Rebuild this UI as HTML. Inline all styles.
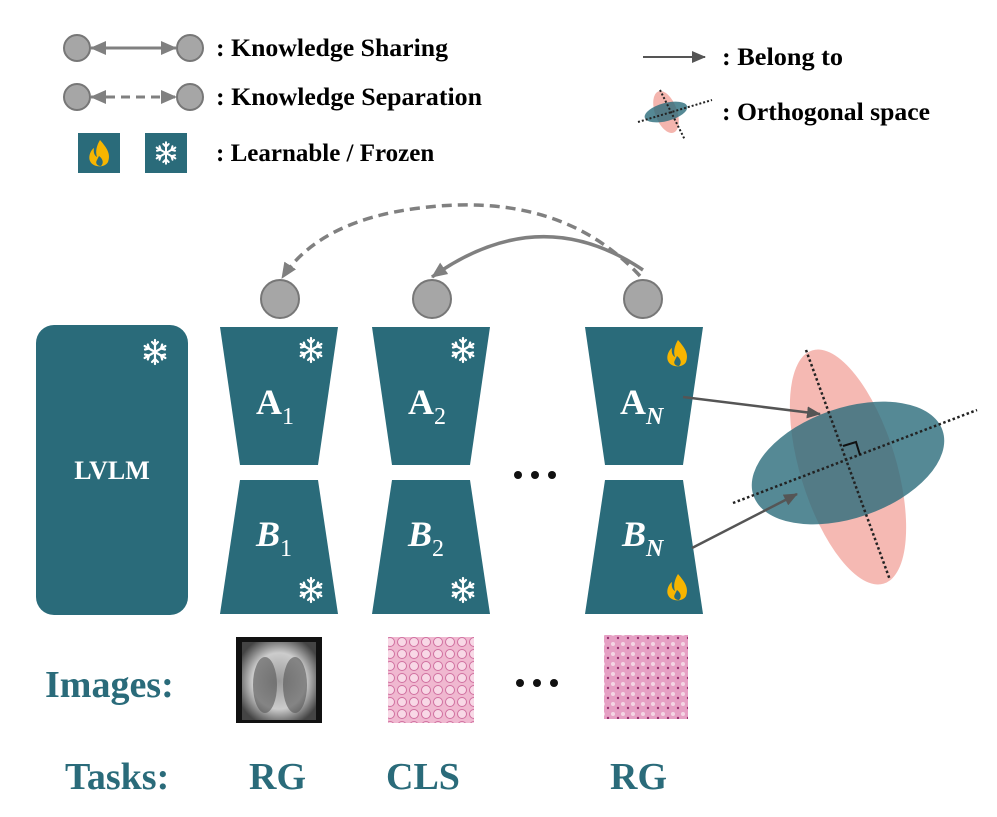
<!DOCTYPE html>
<html><head><meta charset="utf-8"><style>
html,body{margin:0;padding:0;background:#fff;width:997px;height:817px;overflow:hidden}
svg{display:block}
text{font-family:"Liberation Serif",serif;font-weight:bold}
</style></head><body>
<svg width="997" height="817" viewBox="0 0 997 817" xmlns="http://www.w3.org/2000/svg">
<defs>
<marker id="ahb" markerWidth="16" markerHeight="16" refX="15" refY="8" orient="auto-start-reverse" markerUnits="userSpaceOnUse"><path d="M0,1 L16,8 L0,15z" fill="#808080"/></marker>
<marker id="ahd" markerWidth="14" markerHeight="12" refX="13" refY="6" orient="auto" markerUnits="userSpaceOnUse"><path d="M0,0 L14,6 L0,12z" fill="#555"/></marker>
<radialGradient id="xr" cx="50%" cy="50%" r="60%"><stop offset="0" stop-color="#999"/><stop offset="0.6" stop-color="#ccc"/><stop offset="1" stop-color="#444"/></radialGradient>
<pattern id="cells" width="12" height="12" patternUnits="userSpaceOnUse"><rect width="12" height="12" fill="#f0b8d0"/><circle cx="6" cy="6" r="4.5" fill="#f8d8e6" stroke="#d070a0" stroke-width="1"/></pattern>
<pattern id="cells2" width="10" height="10" patternUnits="userSpaceOnUse"><rect width="10" height="10" fill="#e6a0c4"/><circle cx="3" cy="4" r="2" fill="#f4d6e4"/><circle cx="8" cy="8" r="1.2" fill="#9a3070"/></pattern>
<g id="snow" stroke="#fff" stroke-width="2.2" stroke-linecap="round" fill="none">
<path d="M0,-12V12M-10.4,-6L10.4,6M-10.4,6L10.4,-6"/>
<path d="M-3,-10L0,-7L3,-10M-3,10L0,7L3,10M-10,-2.5L-6,-3.5L-7.2,-7.5M10,2.5L6,3.5L7.2,7.5M-10,2.5L-6,3.5L-7.2,7.5M10,-2.5L6,-3.5L7.2,-7.5"/>
</g>
<g id="fire"><path d="M1,-14 C8,-6 12,0 9,8 C6,14 -6,14 -9,7 C-11,2 -8,-4 -5,-6 C-6,-1 -4,2 -2,3 C-4,-3 -2,-9 1,-14z" fill="#f7b500"/><path d="M0,2 C4,5 5,9 2,12 C-2,12 -4,9 -2,6z" fill="#2a6b7a"/></g>
</defs>

<!-- Legend -->
<line x1="91" y1="48" x2="176" y2="48" stroke="#808080" stroke-width="3" marker-end="url(#ahb)" marker-start="url(#ahb)"/>
<line x1="91" y1="97" x2="176" y2="97" stroke="#808080" stroke-width="3" stroke-dasharray="9,6" marker-end="url(#ahb)" marker-start="url(#ahb)"/>
<g stroke="#777" stroke-width="2" fill="#a6a6a6">
<circle cx="77" cy="48" r="13"/><circle cx="190" cy="48" r="13"/>
<circle cx="77" cy="97" r="13"/><circle cx="190" cy="97" r="13"/>
</g>
<text x="216" y="56" font-size="25" textLength="232" lengthAdjust="spacingAndGlyphs">: Knowledge Sharing</text>
<text x="216" y="105" font-size="25" textLength="266" lengthAdjust="spacingAndGlyphs">: Knowledge Separation</text>
<rect x="78" y="133" width="42" height="40" fill="#2a6b7a"/>
<use href="#fire" x="99" y="154"/>
<rect x="145" y="133" width="42" height="40" fill="#2a6b7a"/>
<use href="#snow" transform="translate(166,153) scale(0.9)"/>
<text x="216" y="161" font-size="25">: Learnable / Frozen</text>

<line x1="643" y1="57" x2="705" y2="57" stroke="#555" stroke-width="2" marker-end="url(#ahd)"/>
<text x="722" y="65" font-size="25" textLength="121" lengthAdjust="spacingAndGlyphs">: Belong to</text>
<ellipse cx="666" cy="112" rx="11" ry="22" fill="#f2a8a0" opacity="0.85" transform="rotate(-20 666 112)"/>
<ellipse cx="666" cy="112" rx="22" ry="9" fill="#2a6b7a" opacity="0.8" transform="rotate(-15 666 112)"/>
<line x1="660" y1="90" x2="685" y2="140" stroke="#222" stroke-width="2" stroke-dasharray="2,2"/>
<line x1="638" y1="122" x2="712" y2="100" stroke="#222" stroke-width="2" stroke-dasharray="2,2"/>
<text x="722" y="120" font-size="25" textLength="208" lengthAdjust="spacingAndGlyphs">: Orthogonal space</text>

<!-- Arcs -->
<path d="M643,270 Q540,200 432,277" fill="none" stroke="#808080" stroke-width="3.5" marker-end="url(#ahb)"/>
<path d="M640,276 Q560,190 420,208 Q320,220 282,278" fill="none" stroke="#808080" stroke-width="3.5" stroke-dasharray="10,6" marker-end="url(#ahb)"/>
<g stroke="#777" stroke-width="2" fill="#a6a6a6">
<circle cx="280" cy="299" r="19"/><circle cx="432" cy="299" r="19"/><circle cx="643" cy="299" r="19"/>
</g>

<!-- LVLM -->
<rect x="36" y="325" width="152" height="290" rx="18" fill="#2a6b7a"/>
<text x="112" y="479" font-size="26" fill="#fff" text-anchor="middle">LVLM</text>
<use href="#snow" transform="translate(155,352)"/>

<!-- Adapters -->
<g fill="#2a6b7a">
<path d="M220,327H338L318,465H240z"/><path d="M240,480H318L338,614H220z"/>
<path d="M372,327H490L470,465H392z"/><path d="M392,480H470L490,614H372z"/>
<path d="M585,327H703L683,465H605z"/><path d="M605,480H683L703,614H585z"/>
</g>
<use href="#snow" transform="translate(311,350)"/>
<use href="#snow" transform="translate(463,350)"/>
<use href="#snow" transform="translate(311,590)"/>
<use href="#snow" transform="translate(463,590)"/>
<use href="#fire" x="677" y="354"/>
<use href="#fire" x="677" y="588"/>
<g fill="#fff" font-size="36" style="font-family:'DejaVu Serif',serif">
<text x="256" y="414">A<tspan font-size="24" dy="10" font-weight="normal">1</tspan></text>
<text x="408" y="414">A<tspan font-size="24" dy="10" font-weight="normal">2</tspan></text>
<text x="620" y="414">A<tspan font-size="24" dy="10" font-style="italic">N</tspan></text>
<text x="256" y="546" font-style="italic">B<tspan font-size="24" dy="10" font-style="normal" font-weight="normal">1</tspan></text>
<text x="408" y="546" font-style="italic">B<tspan font-size="24" dy="10" font-style="normal" font-weight="normal">2</tspan></text>
<text x="622" y="546" font-style="italic">B<tspan font-size="24" dy="10">N</tspan></text>
</g>
<g fill="#111"><circle cx="518" cy="475" r="4"/><circle cx="535" cy="475" r="4"/><circle cx="552" cy="475" r="4"/>
<circle cx="520" cy="683" r="4"/><circle cx="537" cy="683" r="4"/><circle cx="554" cy="683" r="4"/></g>

<!-- Orthogonal space -->
<ellipse cx="848" cy="467" rx="48" ry="122" fill="#f2a8a0" opacity="0.8" transform="rotate(-17 848 467)"/>
<ellipse cx="848" cy="463" rx="100" ry="55" fill="#2a6b7a" opacity="0.8" transform="rotate(-19 848 463)"/>
<line x1="806" y1="350" x2="890" y2="580" stroke="#222" stroke-width="2.5" stroke-dasharray="2.5,2.5"/>
<line x1="733" y1="503" x2="977" y2="410" stroke="#222" stroke-width="2.5" stroke-dasharray="2.5,2.5"/>
<path d="M843,446 L856,442 L860,455" fill="none" stroke="#111" stroke-width="2"/>
<line x1="683" y1="397" x2="820" y2="414" stroke="#555" stroke-width="2.5" marker-end="url(#ahd)"/>
<line x1="692" y1="548" x2="797" y2="494" stroke="#555" stroke-width="2.5" marker-end="url(#ahd)"/>

<!-- Images -->
<text x="45" y="697" font-size="38" fill="#2a6b7a">Images:</text>
<rect x="236" y="637" width="86" height="86" fill="#111"/>
<rect x="242" y="642" width="74" height="78" fill="url(#xr)"/>
<ellipse cx="265" cy="685" rx="12" ry="28" fill="#555" opacity="0.6"/>
<ellipse cx="295" cy="685" rx="12" ry="28" fill="#555" opacity="0.6"/>
<rect x="388" y="637" width="86" height="86" fill="url(#cells)"/>
<rect x="604" y="635" width="84" height="84" fill="url(#cells2)"/>

<g font-size="38" fill="#2a6b7a">
<text x="65" y="789">Tasks:</text>
<text x="249" y="789">RG</text>
<text x="386" y="789">CLS</text>
<text x="610" y="789">RG</text>
</g>
</svg>
</body></html>
